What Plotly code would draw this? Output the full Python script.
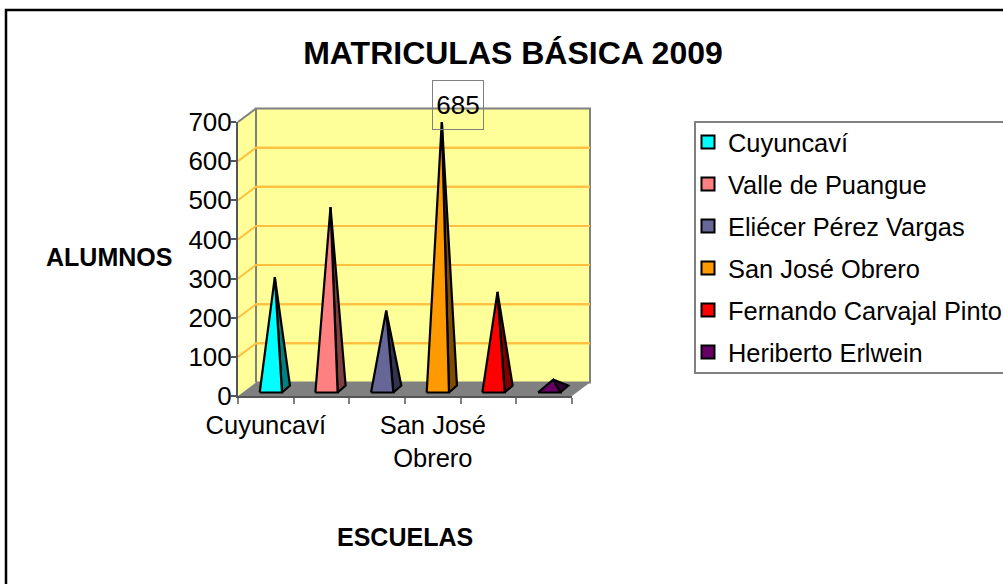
import plotly.graph_objects as go

W, H = 1003, 584

categories = ["Cuyuncaví", "Valle de Puangue", "Eliécer Pérez Vargas",
              "San José Obrero", "Fernando Carvajal Pinto", "Heriberto Erlwein"]
values = [286, 465, 200, 685, 248, 24]
face_colors = ["#00FFFF", "#FF8080", "#666699", "#FF9900", "#FF0000", "#660066"]
side_colors = ["#008080", "#804040", "#333350", "#804D00", "#800000", "#330033"]
y_ticks = [0, 100, 200, 300, 400, 500, 600, 700]
x_label_positions = [0, 3]
x_labels = ["Cuyuncaví", "San José<br>Obrero"]
x_boundaries = [-0.5, 0.5, 1.5, 2.5, 3.5, 4.5, 5.5]

# pixel frame of the axes
PX_L, PX_R, PX_T, PX_B = 238, 572, 122, 396
px_x = (PX_R - PX_L) / 6
px_y = (PX_B - PX_T) / 700
depth_x = 18 / px_x
depth_y = 13.5 / px_y
PAD = 3  # pixels of slack round the wall subplot

fig = go.Figure()


def poly(xs, ys, fill, line="rgba(0,0,0,0)", width=0, ax=("x", "y")):
    fig.add_trace(go.Scatter(
        x=xs, y=ys, xaxis=ax[0], yaxis=ax[1], mode="lines", fill="toself", fillcolor=fill,
        line=dict(color=line, width=width), hoverinfo="skip", showlegend=False))


def seg(xs, ys, color, width):
    fig.add_trace(go.Scatter(
        x=xs, y=ys, xaxis="x", yaxis="y", mode="lines", line=dict(color=color, width=width),
        hoverinfo="skip", showlegend=False))


x0, x1 = x_boundaries[0], x_boundaries[-1]
top = y_ticks[-1]
WALL = "#FFFF99"
# walls and floor live on the hidden, slightly larger subplot x/y
poly([x0, x0 + depth_x, x0 + depth_x, x0, x0], [0, depth_y, top + depth_y, top, 0], WALL)
poly([x0 + depth_x, x1 + depth_x, x1 + depth_x, x0 + depth_x, x0 + depth_x],
     [depth_y, depth_y, top + depth_y, top + depth_y, depth_y], WALL, "#808080", 2)
seg([x0, x0 + depth_x], [top, top + depth_y], "#808080", 2)
for v in y_ticks[1:-1]:
    seg([x0, x0 + depth_x, x1 + depth_x], [v, v + depth_y, v + depth_y], "#FFC040", 2)
    seg([x0 + depth_x, x1 + depth_x], [v + depth_y, v + depth_y], "#FFC040", 2)
poly([x0, x1, x1 + depth_x, x0 + depth_x, x0], [0, 0, depth_y, depth_y, 0], "#808080")

# pyramids live on the visible subplot x2/y2
half = 0.2
front_dx, front_dy = 5 / px_x, 3.5 / px_y
back_dx, back_dy = 8 / px_x, 7 / px_y
for i, (v, fc, sc) in enumerate(zip(values, face_colors, side_colors)):
    xc = i + front_dx
    yb = front_dy
    ax = xc + back_dx / 2
    ay = yb + back_dy / 2 + v
    poly([xc + half, xc + half + back_dx, ax, xc + half],
         [yb, yb + back_dy, ay, yb], sc, "#000000", 2.2, ("x2", "y2"))
    poly([xc - half, xc + half, ax, xc - half],
         [yb, yb, ay, yb], fc, "#000000", 2.2, ("x2", "y2"))

# legend entries
for i, (name, fc) in enumerate(zip(categories, face_colors)):
    fig.add_trace(go.Scatter(
        x=[None], y=[None], xaxis="x2", yaxis="y2", mode="markers", name=name, legendgroup=name,
        marker=dict(symbol="square", size=13, color=fc,
                    line=dict(color="#000000", width=2))))

FONT = "Liberation Sans, Arial, sans-serif"
fig.update_layout(
    template="none",
    width=W, height=H, autosize=False,
    margin=dict(l=0, r=0, t=0, b=0, autoexpand=False),
    paper_bgcolor="#FFFFFF", plot_bgcolor="rgba(0,0,0,0)",
    font=dict(family=FONT, size=25, color="#000000"),
    title=dict(text="<b>MATRICULAS BÁSICA 2009</b>", font=dict(size=32),
               x=513 / W, xanchor="center", y=1 - 53 / H, yanchor="middle",
               xref="paper", yref="container"),
    # hidden wall subplot: same scale as the visible one, with room for the depth
    xaxis=dict(domain=[(PX_L - PAD) / W, (PX_R + 18 + PAD) / W],
               range=[x0 - PAD / px_x, x1 + depth_x + PAD / px_x], visible=False),
    yaxis=dict(domain=[1 - (PX_B + PAD) / H, 1 - (PX_T - 13.5 - PAD) / H],
               range=[-PAD / px_y, top + depth_y + PAD / px_y], visible=False),
    xaxis2=dict(domain=[PX_L / W, PX_R / W], range=[x0, x1], anchor="y2", showgrid=False,
                automargin=False, zeroline=False, showline=True, linecolor="#555555", linewidth=2,
                tickmode="array", tickvals=x_label_positions, ticktext=x_labels,
                ticks="", ticklabelstandoff=5, tickfont=dict(size=25.5),
                minor=dict(tickmode="array", tickvals=x_boundaries, ticks="outside",
                           ticklen=6, tickwidth=2, tickcolor="#808080", showgrid=False)),
    yaxis2=dict(domain=[1 - PX_B / H, 1 - PX_T / H], range=[0, top], anchor="x2", showgrid=False,
                automargin=False, zeroline=False, showline=True, linecolor="#555555", linewidth=2,
                tickmode="array", tickvals=y_ticks, ticks="outside", ticklen=5,
                tickwidth=2, tickcolor="#555555", ticklabelstandoff=-6, tickfont=dict(size=26)),
    legend=dict(x=688 / W, xanchor="left", y=1 - 119 / H, yanchor="top",
                bgcolor="rgba(0,0,0,0)", borderwidth=0,
                tracegroupgap=6, font=dict(size=25.4)),
    shapes=[
        dict(type="rect", xref="paper", yref="paper", layer="below",
             x0=6 / W, x1=1.02, y0=-0.02, y1=1 - 10 / H,
             line=dict(color="#000000", width=2.5)),
        dict(type="rect", xref="paper", yref="paper", layer="below",
             x0=695 / W, x1=1.02, y0=1 - 373 / H, y1=1 - 122 / H,
             line=dict(color="#808080", width=2)),
    ],
    annotations=[
        dict(text="<b>ALUMNOS</b>", xref="paper", yref="paper", x=108.5 / W, y=1 - 257 / H,
             xanchor="center", yanchor="middle", showarrow=False, font=dict(size=25)),
        dict(text="<b>ESCUELAS</b>", xref="paper", yref="paper", x=405 / W, y=1 - 537 / H,
             xanchor="center", yanchor="middle", showarrow=False, font=dict(size=25)),
        dict(text=str(values[3]), x=3, y=values[3], xref="x2", yref="y2",
             showarrow=False, xshift=458 - (PX_L + 3.5 * px_x), yshift=22.5,
             width=50, height=48, bordercolor="#808080", borderwidth=1, borderpad=0,
             font=dict(size=26)),
    ],
)

fig.write_html("out.html", config=dict(displayModeBar=False),
               post_script="document.body.style.margin='0';document.body.style.overflow='hidden';")
